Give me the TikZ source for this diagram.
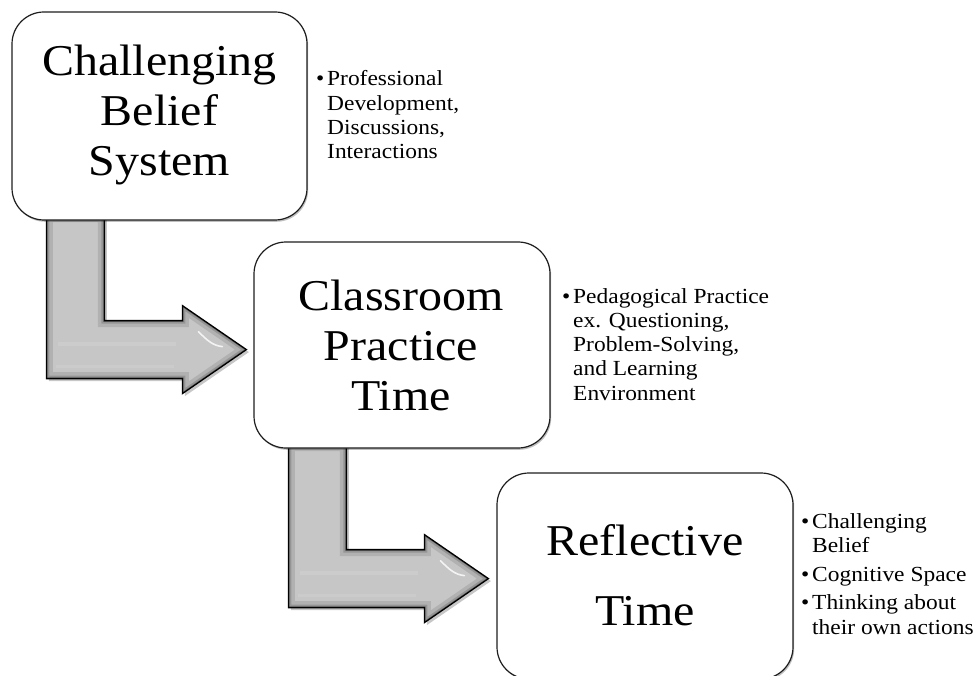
\documentclass[tikz,border=0pt]{standalone}
\usepackage{fontspec}
\setmainfont{Liberation Serif}[FakeStretch=1.09]
\usetikzlibrary{calc,shadows,backgrounds}

\definecolor{arrowgray}{HTML}{C6C6C6}
\definecolor{edgegray}{HTML}{1E1E1E}

% outline of the bent block arrow, in local coordinates (y grows downwards)
\newcommand\arrowshape[1]{%
  \path[#1] (0,0) -- (0,163) -- (136,163) -- (136,178) -- (200,134)
    -- (136,90) -- (136,105) -- (58,105) -- (58,0) -- cycle;}

\tikzset{
  box/.style={draw=edgegray, line width=1.2pt, fill=white,
    rounded corners=32pt, inner sep=0pt,
    drop shadow={shadow xshift=1.2pt, shadow yshift=-1.8pt, opacity=0.25, fill=black}},
  boxtext/.style={inner sep=0pt, anchor=base,
    font=\fontsize{44}{50}\selectfont},
  notetext/.style={inner sep=0pt, anchor=base west,
    font=\fontsize{21.5}{24.3}\selectfont},
  bentarrow/.pic={
    \arrowshape{fill=black, opacity=0.22, shift={(2.5,2.5)}}
    \arrowshape{fill=arrowgray}
    \begin{scope}
      \arrowshape{clip}
      \arrowshape{draw=black, line width=13pt, opacity=0.10}
      \arrowshape{draw=black, line width=6pt, opacity=0.16}
      \arrowshape{draw=black, line width=2.5pt, opacity=0.25}
      \draw[white, line width=4pt, opacity=0.12] (12,128) -- (130,128);
      \draw[white, line width=3pt, opacity=0.10] (10,151) -- (128,151);
    \end{scope}
    \draw[white, line width=1.6pt, opacity=0.8, line cap=round]
      (152,116) .. controls (160,124) and (166,130) .. (176,131);
    \arrowshape{draw=black, line width=1.3pt, line join=miter}
  }
}

\newcommand\bul{\makebox[11pt][l]{•}}

\begin{document}
\begin{tikzpicture}[x=1pt,y=-1pt]
\useasboundingbox (0,0) rectangle (979,676);
\clip (0,0) rectangle (979,676);

% the three stage boxes
\node[box, minimum width=295pt, minimum height=208pt] (b1) at (159.5,116) {};
\node[box, minimum width=296pt, minimum height=206pt] (b2) at (402,345) {};
\node[box, minimum width=296pt, minimum height=206pt] (b3) at (645,576) {};

% bent arrows leading from one stage to the next, behind the boxes
\begin{pgfonlayer}{background}
\pic at ($(b1.south west)+(35,-5)$) {bentarrow};
\pic at ($(b2.south west)+(35,-4)$) {bentarrow};
\end{pgfonlayer}

% box titles
\node[boxtext] (t1) at (159.5,76) {\begin{tabular}[t]{@{}c@{}}Challenging\\Belief\\System\end{tabular}};
\node[boxtext] (t2) at (401,310) {\begin{tabular}[t]{@{}c@{}}Classroom\\Practice\\Time\end{tabular}};
\node[boxtext] (t3) at (645,555) {\begin{tabular}[t]{@{}c@{}}Reflective\\[20pt]Time\end{tabular}};

% bullet notes beside each box
\node[notetext] (n1) at (316,86) {\begin{tabular}[t]{@{}l@{}l@{}}
\bul & Professional\\ & Development,\\ & Discussions,\\ & Interactions\end{tabular}};
\node[notetext] (n2) at (562,303) {\begin{tabular}[t]{@{}l@{}l@{}}
\bul & Pedagogical Practice\\ & ex. Questioning,\\ & Problem-Solving,\\ & and Learning\\ & Environment\end{tabular}};
\node[notetext] (n3) at (801,528) {\begin{tabular}[t]{@{}l@{}l@{}}
\bul & Challenging\\ & Belief\\[4.5pt]
\bul & Cognitive Space\\[4.5pt]
\bul & Thinking about\\ & their own actions\end{tabular}};
\end{tikzpicture}
\end{document}
